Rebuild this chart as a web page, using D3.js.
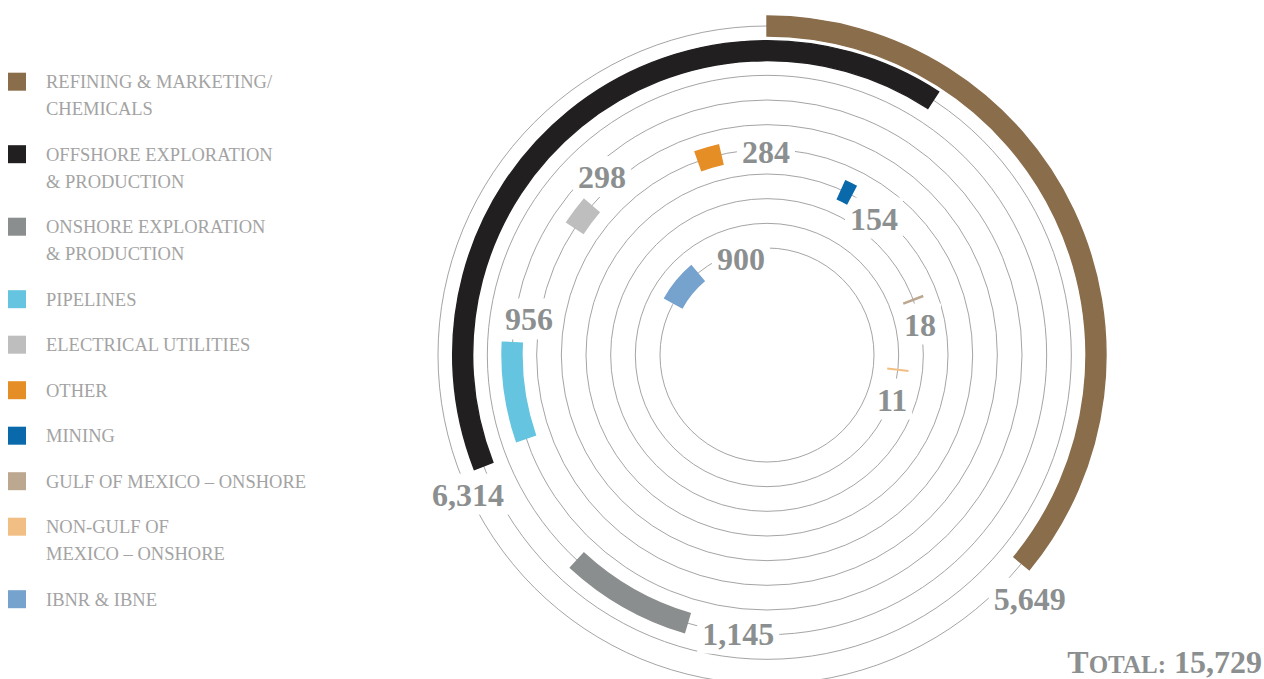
<!DOCTYPE html>
<html>
<head>
<meta charset="utf-8">
<script src="https://cdn.jsdelivr.net/npm/d3@7"></script>
<style>
  html, body { margin: 0; padding: 0; background: #fff; }
  svg { display: block; }
</style>
</head>
<body>
<svg id="chart" width="1264" height="679"></svg>
<script>
// ---------------- DATA ----------------
const categories = [
  "REFINING & MARKETING/\nCHEMICALS",
  "OFFSHORE EXPLORATION\n& PRODUCTION",
  "ONSHORE EXPLORATION\n& PRODUCTION",
  "PIPELINES",
  "ELECTRICAL UTILITIES",
  "OTHER",
  "MINING",
  "GULF OF MEXICO – ONSHORE",
  "NON-GULF OF\nMEXICO – ONSHORE",
  "IBNR & IBNE"
];
const values = [5649, 6314, 1145, 956, 298, 284, 154, 18, 11, 900];
const colors = ["#8A6D4B", "#221F20", "#8B8E8E", "#65C5E0", "#BEBEBE",
                "#E68E26", "#0A69AA", "#BCA891", "#F1BF83", "#76A2CE"];
const totalTitle = "Total:";

// ---------------- LAYOUT ----------------
// clockwise start of each arc, degrees from 12 o'clock
const arcStartDeg = [0, -111.4, -163.45, -109.1, -56.46, -19.5, 24.3, 69.1, 96.3, -60.95];
// value label placement: [angle deg, radius px]
const labelPolar = [[132.9, 358.7], [-115.1, 330.2], [-174.1, 280.5], [-81.6, 240.6],
                    [-42.9, 242.3], [-0.3, 202.5], [38.2, 173], [78.9, 155.9],
                    [109.8, 132.9], [-15.2, 99.5]];

const W = 1264, H = 679;
const cx = 767, cy = 355;
const total = d3.sum(values);
const fmt = d3.format(",");

const svg = d3.select("#chart");
svg.append("rect").attr("width", W).attr("height", H).attr("fill", "#fff");

// ring radius: outermost = first category, innermost = last
const rScale = d3.scalePoint()
  .domain(categories.slice().reverse())
  .range([107, 329]);
const angle = d3.scaleLinear().domain([0, total]).range([0, 2 * Math.PI]);
const toRad = d => d * Math.PI / 180;

const g = svg.append("g").attr("transform", `translate(${cx},${cy})`);
const ringLayer = g.append("g");
const maskLayer = g.append("g");
const arcLayer = g.append("g");
const labelLayer = g.append("g");

// rings
ringLayer.selectAll("circle")
  .data(categories)
  .join("circle")
  .attr("r", d => rScale(d))
  .attr("fill", "none")
  .attr("stroke", "#9a9a9a")
  .attr("stroke-width", 0.9);

// arcs
const thick = 20;
const arcGen = d3.arc()
  .innerRadius(d => rScale(d.cat) - thick / 2)
  .outerRadius(d => rScale(d.cat) + thick / 2)
  .startAngle(d => toRad(d.start))
  .endAngle(d => toRad(d.start) + angle(d.value));

const arcData = categories.map((c, i) => ({cat: c, value: values[i], start: arcStartDeg[i], color: colors[i]}));

arcLayer.selectAll("path")
  .data(arcData)
  .join("path")
  .attr("d", arcGen)
  .attr("fill", d => d.color)
  .attr("stroke", d => d.color)
  .attr("stroke-width", 1.4);

// value labels
const fs = 32;
const labels = labelLayer.selectAll("text")
  .data(arcData)
  .join("text")
  .attr("x", (d, i) => labelPolar[i][1] * Math.sin(toRad(labelPolar[i][0])))
  .attr("y", (d, i) => -labelPolar[i][1] * Math.cos(toRad(labelPolar[i][0])) + fs * 0.33)
  .attr("text-anchor", "middle")
  .attr("font-family", "'Liberation Serif', 'DejaVu Serif', serif")
  .attr("font-weight", "bold")
  .attr("font-size", fs)
  .attr("fill", "#8C8F8F")
  .text(d => fmt(d.value));

// white knock-outs behind labels to break the rings
labels.each(function() {
  const b = this.getBBox();
  maskLayer.append("rect")
    .attr("x", b.x - 5)
    .attr("y", b.y - 3)
    .attr("width", b.width + 10)
    .attr("height", b.height + 5)
    .attr("fill", "#fff");
});

// legend
const legend = svg.append("g");
let yTop = 72.7;
categories.forEach((c, i) => {
  const lines = c.split("\n");
  legend.append("rect")
    .attr("x", 8).attr("y", yTop)
    .attr("width", 18).attr("height", 18)
    .attr("fill", colors[i]);
  const t = legend.append("text")
    .attr("font-family", "'Liberation Serif', 'DejaVu Serif', serif")
    .attr("font-size", 18.5)
    .attr("fill", "#A3A3A3");
  lines.forEach((ln, k) => {
    t.append("tspan")
      .attr("x", 46)
      .attr("y", yTop + 15.5 + k * 27)
      .text(ln);
  });
  yTop += 45.5 + 27 * (lines.length - 1);
});

// total
const tt = svg.append("text")
  .attr("x", 1262).attr("y", 673)
  .attr("text-anchor", "end")
  .attr("font-family", "'Liberation Serif', 'DejaVu Serif', serif")
  .attr("font-weight", "bold")
  .attr("fill", "#8C8F8F");
tt.append("tspan").attr("font-size", 32).text(totalTitle.charAt(0).toUpperCase());
tt.append("tspan").attr("font-size", 25).text(totalTitle.slice(1).toUpperCase());
tt.append("tspan").attr("font-size", 32).text(" " + fmt(total));
</script>
</body>
</html>
